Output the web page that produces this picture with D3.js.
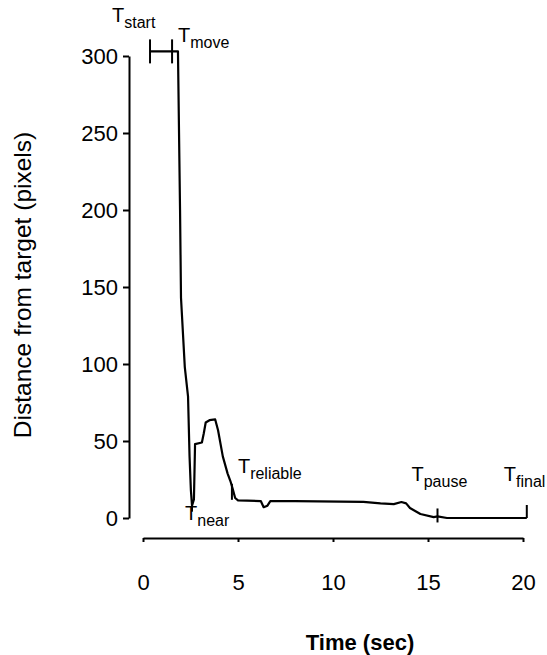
<html>
<head>
<script src="https://d3js.org/d3.v7.min.js"></script>
<style>
body { margin: 0; background: white; }
text { font-family: "Liberation Sans", Arial, sans-serif; fill: black; }
</style>
</head>
<body>
<svg width="547" height="655"></svg>
<script>
// trace of distance from target over time
var timeSec  = [0.37, 1.84, 1.95, 2.0, 2.2, 2.37, 2.45, 2.52, 2.58, 2.68, 2.74, 3.1, 3.2, 3.3, 3.5, 3.8, 3.95, 4.2, 4.45, 4.6, 4.72, 4.85, 5.0, 6.2, 6.35, 6.55, 6.7, 8.0, 11.6, 12.5, 13.2, 13.6, 13.85, 14.05, 14.6, 15.3, 15.5, 16.0, 20.2];
var distance = [303, 303, 200, 143, 98, 79, 40, 18, 8, 12, 48, 49, 55, 62, 63.5, 64, 57, 40, 29, 24, 19, 13, 11.5, 11, 7, 8, 11, 11, 10.5, 9.5, 9, 10.4, 9.5, 6.5, 2.6, 0.6, 1, 0, 0];

// event markers
var eventNames = ["start", "move", "near", "reliable", "pause", "final"];
var eventTimes = [0.37, 1.53, 2.58, 4.68, 15.5, 20.2];
var eventDist  = [303, 303, 8, 17, 1, 0];

var xTicks = [0, 5, 10, 15, 20];
var yTicks = [0, 50, 100, 150, 200, 250, 300];

var svg = d3.select("svg");

var x = d3.scaleLinear().domain([0, 20]).range([143, 523]);
var y = d3.scaleLinear().domain([0, 300]).range([518, 56]);

// y axis
var yAxis = svg.append("g")
   .attr("transform", "translate(129,0)")
   .call(d3.axisLeft(y).tickValues(yTicks).tickSize(6).tickPadding(5).tickSizeOuter(0));
yAxis.select(".domain").attr("stroke-width", 2);
yAxis.selectAll(".tick line").attr("stroke-width", 2);
yAxis.selectAll("text").style("font-size", "22px").attr("fill", "black");

// x axis (offset below the plot)
var xAxis = svg.append("g")
   .attr("transform", "translate(0,538)")
   .call(d3.axisBottom(x).tickValues(xTicks).tickSize(4).tickPadding(32).tickSizeOuter(0));
xAxis.select(".domain").attr("stroke-width", 2);
xAxis.selectAll(".tick line").attr("stroke-width", 2);
xAxis.selectAll("text").style("font-size", "22px").attr("fill", "black");

// trace
var pts = timeSec.map(function(t, i) { return [t, distance[i]]; });
svg.append("path")
   .datum(pts)
   .attr("fill", "none")
   .attr("stroke", "black")
   .attr("stroke-width", 2.2)
   .attr("stroke-linejoin", "round")
   .attr("d", d3.line().x(function(d) { return x(d[0]); }).y(function(d) { return y(d[1]); }));

// event tick marks: [up, down] extent in px around the trace
var markExtent = {start: [12, 12], move: [12, 12], near: [4, 6], reliable: [8, 8], pause: [8, 6], final: [13, 0]};
// label anchor: dx/dy of the "T" from the marker
var labelPos = {start: [-38, -29], move: [6, -9], near: [-7, 14], reliable: [6, -19], pause: [-26, -35], final: [-23, -37]};

eventNames.forEach(function(n, i) {
  var cx = x(eventTimes[i]), cy = y(eventDist[i]);
  svg.append("line")
     .attr("x1", cx).attr("x2", cx)
     .attr("y1", cy - markExtent[n][0]).attr("y2", cy + markExtent[n][1])
     .attr("stroke", "black").attr("stroke-width", 2);
  var t = svg.append("text")
     .attr("x", cx + labelPos[n][0])
     .attr("y", cy + labelPos[n][1])
     .style("font-size", "20px");
  t.append("tspan").text("T");
  t.append("tspan").attr("dy", 6).style("font-size", "16px").text(n);
});

// axis titles
svg.append("text")
   .attr("transform", "translate(31,285) rotate(-90)")
   .style("text-anchor", "middle")
   .style("font-size", "24.5px")
   .text("Distance from target (pixels)");

svg.append("text")
   .attr("x", 360).attr("y", 650)
   .style("text-anchor", "middle")
   .style("font-size", "22px")
   .style("font-weight", "bold")
   .text("Time (sec)");
</script>
</body>
</html>
